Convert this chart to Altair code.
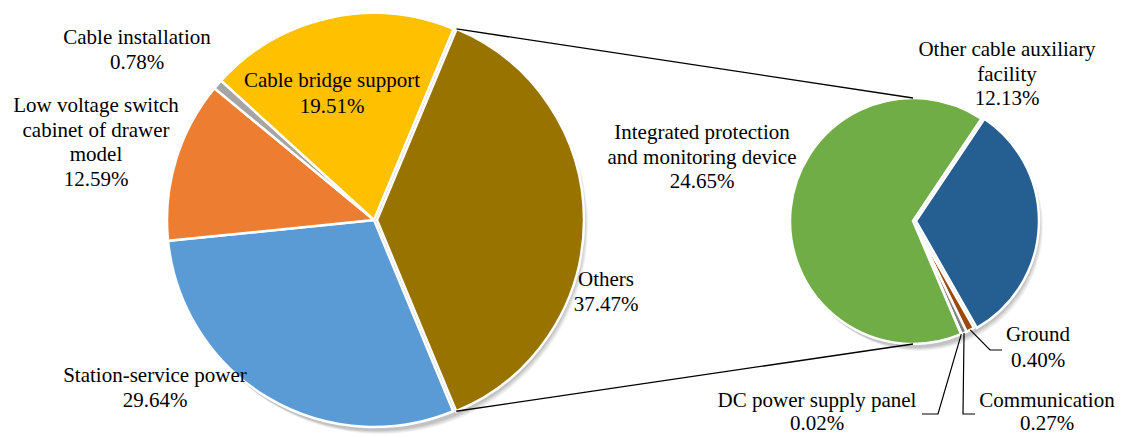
import math
import altair as alt
import pandas as pd

# ---------------- data ----------------
left_cats = ["Others", "Station-service power", "Low voltage switch cabinet of drawer model",
             "Cable installation", "Cable bridge support"]
left_vals = [37.47, 29.64, 12.59, 0.78, 19.51]
left_colors = ["#997300", "#5B9BD5", "#ED7D31", "#A5A5A5", "#FFC000"]

right_cats = ["Other cable auxiliary facility", "Ground", "Communication",
              "DC power supply panel", "Integrated protection and monitoring device"]
right_vals = [12.13, 0.40, 0.27, 0.02, 24.65]
right_colors = ["#255E91", "#9E480E", "#7F7F7F", "#C9A000", "#70AD47"]

# ---------------- layout ----------------
W, H = 1108, 422
L_CX, L_CY, L_R = 366, 204, 207
R_CX, R_CY, R_R = 905, 205, 123
L_START = math.radians(22.6)
R_START = math.radians(33.8)
L_EXPLODE = {"Others": 3}
R_EXPLODE = {"Other cable auxiliary facility": 3}
FONT = "Liberation Serif, DejaVu Serif, serif"
FS = 21
LH = 24.5

color_scale = alt.Scale(domain=left_cats + right_cats, range=left_colors + right_colors)


def pie(cats, vals, cx, cy, r, start, explode):
    total = sum(vals)
    df = pd.DataFrame({"cat": cats, "value": vals, "order": list(range(len(cats)))})
    df["dx"] = [explode.get(c, 0) for c in cats]
    base = alt.Chart(df).transform_stack(
        stack="value", groupby=[], as_=["v0", "v1"], sort=[alt.SortField("order")]
    )
    th = alt.Scale(domain=[0, total], range=[start, start + 2 * math.pi])
    layers = []
    # soft shadow
    for k, op in [(6, 0.05), (5, 0.06), (4, 0.07), (3, 0.08)]:
        layers.append(
            alt.Chart(pd.DataFrame({"v": [1]})).mark_arc(radius=r + 1, fill="#000000", opacity=op)
            .encode(x=alt.value(cx + k), y=alt.value(cy + k),
                    theta=alt.Theta("v:Q", scale=alt.Scale(domain=[0, 1], range=[0, 2 * math.pi])))
        )
    for d in sorted(set(df["dx"])):
        layers.append(
            base.transform_filter(f"datum.dx == {d}")
            .mark_arc(radius=r, stroke="white", strokeWidth=2.5)
            .encode(
                x=alt.value(cx + d), y=alt.value(cy),
                theta=alt.Theta("v0:Q", scale=th), theta2="v1",
                color=alt.Color("cat:N", scale=color_scale, legend=None),
            )
        )
    return alt.layer(*layers).resolve_scale(theta="independent")


left_pie = pie(left_cats, left_vals, L_CX, L_CY, L_R, L_START, L_EXPLODE)
right_pie = pie(right_cats, right_vals, R_CX, R_CY, R_R, R_START, R_EXPLODE)

# connector lines between the "Others" slice and the right pie
l_total = sum(left_vals)
a0 = L_START
a1 = L_START + 2 * math.pi * left_vals[0] / l_total
ex = L_EXPLODE["Others"]
conn = pd.DataFrame({
    "g": ["top", "top", "bot", "bot"],
    "o": [0, 1, 0, 1],
    "px": [L_CX + ex + L_R * math.sin(a0), R_CX, L_CX + ex + L_R * math.sin(a1), R_CX],
    "py": [L_CY - L_R * math.cos(a0), R_CY - R_R, L_CY - L_R * math.cos(a1), R_CY + R_R],
})
conn_lines = alt.Chart(conn).mark_line(color="black", strokeWidth=1.3).encode(
    x=alt.X("px:Q", scale=None), y=alt.Y("py:Q", scale=None), detail="g:N", order="o:Q"
)

# leader lines for the tiny slices of the right pie
r_total = sum(right_vals)
cum = 0.0
mids = {}
for c, v in zip(right_cats, right_vals):
    mids[c] = R_START + 2 * math.pi * (cum + v / 2) / r_total
    cum += v
leader_layout = {  # elbow and end of each leader (layout)
    "Ground": [(982, 334), (994, 334)],
    "Communication": [(955, 398), (967, 398)],
    "DC power supply panel": [(930, 398), (914, 398)],
}
rows = []
for c, pts in leader_layout.items():
    a = mids[c]
    rows.append({"g": c, "o": 0, "px": R_CX + R_R * math.sin(a), "py": R_CY - R_R * math.cos(a)})
    for i, (px, py) in enumerate(pts):
        rows.append({"g": c, "o": i + 1, "px": px, "py": py})
leaders = alt.Chart(pd.DataFrame(rows)).mark_line(color="black", strokeWidth=1.2).encode(
    x=alt.X("px:Q", scale=None), y=alt.Y("py:Q", scale=None), detail="g:N", order="o:Q"
)

# labels: (lines, centre x, first-line y, line spacing)
label_blocks = [
    (["Cable installation", "0.78%"], 129, 22, LH),
    (["Low voltage switch", "cabinet of  drawer", "model", "12.59%"], 88, 90, LH),
    (["Cable bridge support", "19.51%"], 324, 65, 25.5),
    (["Station-service power", "29.64%"], 147, 360, LH),
    (["Others", "37.47%"], 598, 264, LH),
    (["Integrated protection", "and monitoring device", "24.65%"], 694, 117, LH),
    (["Other cable auxiliary", "facility", "12.13%"], 999, 34, LH),
    (["Ground", "0.40%"], 1030, 319, 25.5),
    (["Communication", "0.27%"], 1039, 385, 23),
    (["DC power supply panel", "0.02%"], 809, 385, 23),
]
lab_rows = []
for lines, lx, ly, lh in label_blocks:
    for i, t in enumerate(lines):
        lab_rows.append({"t": t, "lx": lx, "ly": ly + i * lh})
labels = alt.Chart(pd.DataFrame(lab_rows)).mark_text(
    font=FONT, fontSize=FS, color="black", align="center", baseline="middle"
).encode(x=alt.X("lx:Q", scale=None), y=alt.Y("ly:Q", scale=None), text="t:N")

chart = (
    alt.layer(left_pie, right_pie, conn_lines, leaders, labels)
    .resolve_scale(theta="independent")
    .properties(width=W, height=H, padding=0, background="white")
    .configure_view(stroke=None)
)
chart.save("out.html", embed_options={"renderer": "svg", "actions": False})
